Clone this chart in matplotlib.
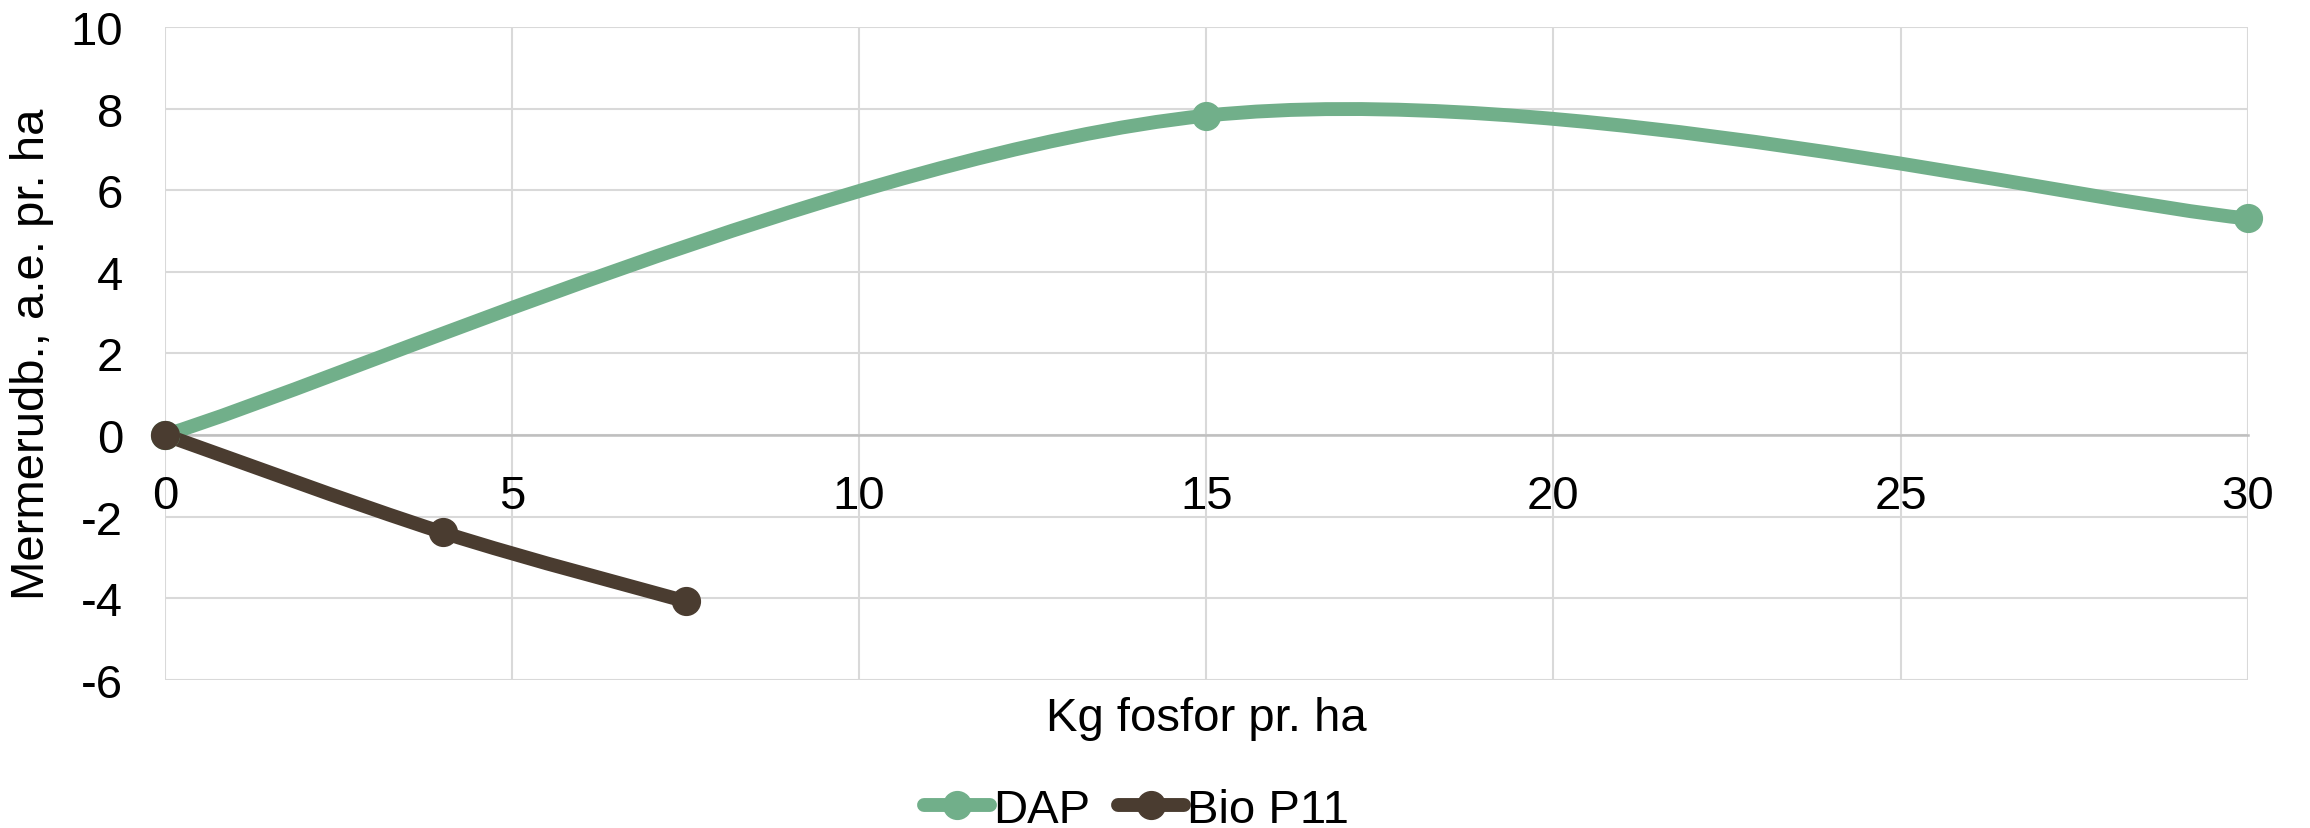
import numpy as np
import matplotlib.pyplot as plt
from matplotlib.path import Path
from matplotlib.patches import PathPatch
from matplotlib.lines import Line2D

plt.rcParams['font.family'] = ['Liberation Sans', 'DejaVu Sans']
plt.rcParams['axes.unicode_minus'] = False

dap_x = [0, 15, 30]
dap_y = [0, 7.83, 5.31]
bio_x = [0, 4, 7.5]
bio_y = [0, -2.39, -4.08]

green = '#71AF8A'
brown = '#4A3C30'


def smooth_path(xs, ys):
    # excel-style smoothed line: cubic bezier, catmull-rom control points
    p = np.column_stack([xs, ys]).astype(float)
    n = len(p)
    verts = [p[0]]
    codes = [Path.MOVETO]
    for i in range(n - 1):
        p0 = p[i - 1] if i > 0 else p[i]
        p1 = p[i]
        p2 = p[i + 1]
        p3 = p[i + 2] if i + 2 < n else p[i + 1]
        c1 = p1 + (p2 - p0) / 6.0
        c2 = p2 - (p3 - p1) / 6.0
        verts += [c1, c2, p2]
        codes += [Path.CURVE4] * 3
    return Path(verts, codes)


fig = plt.figure(figsize=(23.1, 8.29), dpi=100)
ax = fig.add_axes([0.0714, 0.179, 0.9016, 0.787])

ax.set_xlim(0, 30)
ax.set_ylim(-6, 10)
ax.set_xticks(range(0, 31, 5))
ax.set_yticks(range(-6, 11, 2))

ax.grid(True, color='#D9D9D9', lw=1.5)
ax.set_axisbelow(True)
for s in ['top', 'right', 'left']:
    ax.spines[s].set_visible(False)
ax.spines['bottom'].set_position(('data', 0))
ax.spines['bottom'].set_color('#BFBFBF')
ax.spines['bottom'].set_linewidth(1.8)
ax.spines['bottom'].set_zorder(1)

ax.tick_params(axis='both', length=0, labelsize=34)
ax.tick_params(axis='x', pad=28)
ax.tick_params(axis='y', pad=30)

for xs, ys, c in [(dap_x, dap_y, green), (bio_x, bio_y, brown)]:
    patch = PathPatch(smooth_path(xs, ys), facecolor='none', edgecolor=c,
                      lw=10, capstyle='round', joinstyle='round', zorder=3)
    ax.add_patch(patch)
    ax.plot(xs, ys, 'o', color=c, ms=20, zorder=4, clip_on=False)

ax.set_ylabel('Mermerudb., a.e. pr. ha', fontsize=34, labelpad=12)
fig.text(0.5 * (0.0714 + 0.973), 1 - 719 / 829, 'Kg fosfor pr. ha',
         fontsize=34, ha='center', va='center')

handles = [Line2D([], [], color=green, lw=10, marker='o', ms=20,
                  solid_capstyle='round'),
           Line2D([], [], color=brown, lw=10, marker='o', ms=20,
                  solid_capstyle='round')]
fig.legend(handles, ['DAP', 'Bio P11'], loc='center',
           bbox_to_anchor=(0.492, 1 - 811 / 829), ncol=2,
           frameon=False, fontsize=34, handlelength=1.4, handletextpad=0.05,
           columnspacing=0.6)

fig.savefig('out.png', dpi=100)
